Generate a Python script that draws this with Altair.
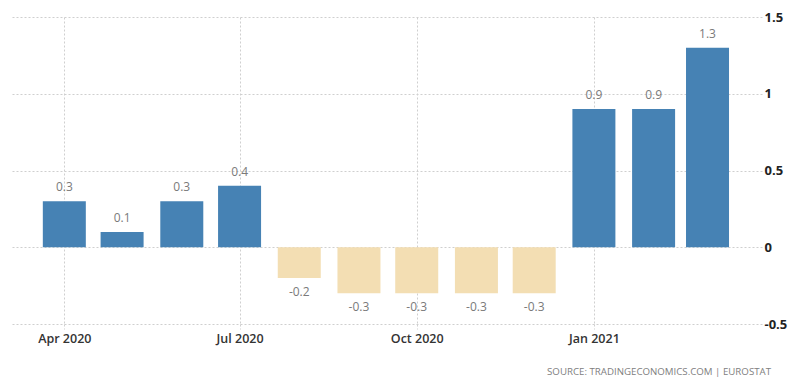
import altair as alt
import pandas as pd

months = ["2020-04-01", "2020-05-01", "2020-06-01", "2020-07-01", "2020-08-01", "2020-09-01",
          "2020-10-01", "2020-11-01", "2020-12-01", "2021-01-01", "2021-02-01", "2021-03-01"]
values = [0.3, 0.1, 0.3, 0.4, -0.2, -0.3, -0.3, -0.3, -0.3, 0.9, 0.9, 1.3]
y_ticks = [-0.5, 0, 0.5, 1, 1.5]
x_ticks = ["2020-04-01", "2020-07-01", "2020-10-01", "2021-01-01"]
source_text = "SOURCE:  TRADINGECONOMICS.COM   |   EUROSTAT"

df = pd.DataFrame({
    "date": months,
    "value": values,
    "label": [f"{v:.1f}" for v in values],
    "sign": ["pos" if v >= 0 else "neg" for v in values],
})

x_tick_dt = []
for s in x_ticks:
    yy, mm, dd = (int(p) for p in s.split("-"))
    x_tick_dt.append(alt.DateTime(year=yy, month=mm, date=dd, utc=True))

x_enc = alt.X(
    "date:T",
    scale=alt.Scale(type="utc", padding=0, domain=[
        alt.DateTime(year=2020, month=3, date=3, hours=19, utc=True),
        alt.DateTime(year=2021, month=3, date=29, hours=7, utc=True)]),
    axis=alt.Axis(
        values=x_tick_dt, format="%b %Y", title=None,
        grid=True, gridDash=[2, 2], gridColor="#cfcfcf", gridWidth=1,
        domain=False, ticks=True, tickSize=5, tickDash=[2, 2], tickColor="#cfcfcf",
        labelFont="Open Sans", labelFontSize=12.5, labelFontWeight=600,
        labelColor="#333333", labelPadding=3,
    ),
)

y_enc = alt.Y(
    "value:Q",
    scale=alt.Scale(domain=[-0.5, 1.5], nice=False, zero=False),
    axis=alt.Axis(
        orient="right", values=y_ticks, title=None,
        labelExpr="toString(datum.value)",
        grid=True, gridDash=[2, 2], gridColor="#cfcfcf", gridWidth=1,
        domain=False, ticks=False, labelPadding=2,
        labelFont="Open Sans", labelFontSize=13, labelFontWeight="bold",
        labelColor="#222222", labelAlign="left", labelBaseline="middle",
    ),
)

base = alt.Chart(df)

bars = base.mark_bar(size=43).encode(
    x=x_enc,
    y=y_enc,
    y2=alt.datum(0),
    color=alt.Color("sign:N", scale=alt.Scale(domain=["pos", "neg"], range=["#4682b4", "#f3deb3"]), legend=None),
)

pos_labels = base.transform_filter("datum.value >= 0").mark_text(
    baseline="bottom", dy=-7, font="Open Sans", fontSize=12, color="#7a7a7a"
).encode(x="date:T", y="value:Q", text="label:N")

neg_labels = base.transform_filter("datum.value < 0").mark_text(
    baseline="top", dy=9, font="Open Sans", fontSize=12, color="#7a7a7a"
).encode(x="date:T", y="value:Q", text="label:N")

chart = alt.layer(bars, pos_labels, neg_labels).properties(
    width=752,
    height=307,
    autosize=alt.AutoSizeParams(type="none"),
    padding={"left": 2, "top": 9, "right": 30, "bottom": 58},
    title=alt.TitleParams(
        text=source_text, orient="bottom", anchor="end", offset=22, frame="group", dx=9,
        font="Open Sans", fontSize=9.7, fontWeight="normal", color="#808080",
    ),
).configure_view(stroke=None)

chart.save("out.html", embed_options={"renderer": "svg", "actions": False})
